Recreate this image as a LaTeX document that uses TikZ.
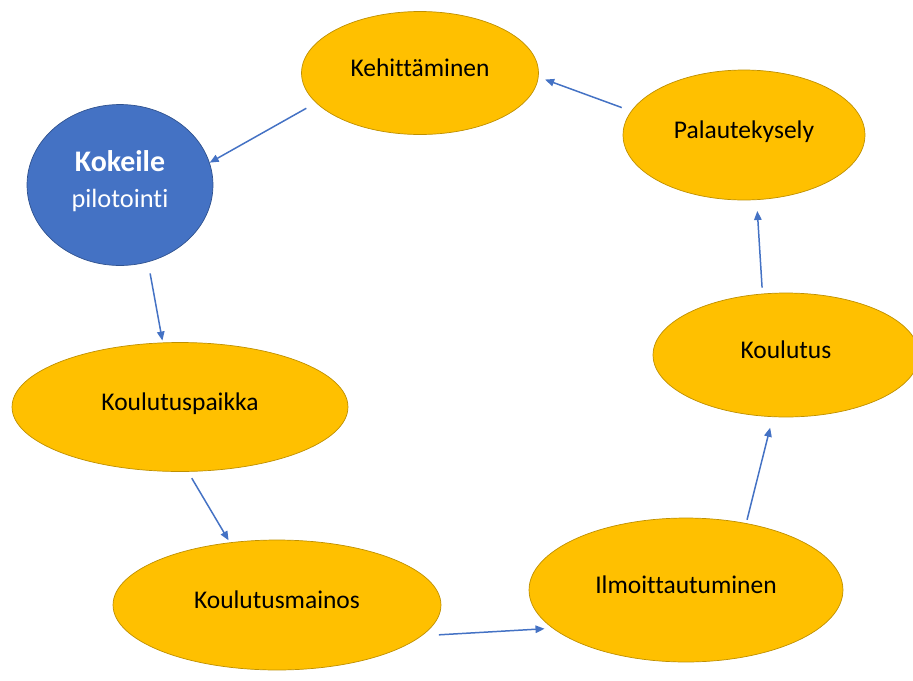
\documentclass[tikz,border=0pt]{standalone}
\usepackage{fontspec}
\setmainfont{Carlito}[Ligatures=NoCommon]
\usetikzlibrary{shapes.geometric,arrows.meta}
\definecolor{gold}{HTML}{FFC000}
\definecolor{goldedge}{HTML}{BF9000}
\definecolor{office}{HTML}{4472C4}
\definecolor{officeedge}{HTML}{2F528F}
\begin{document}
\begin{tikzpicture}[x=0.02cm, y=-0.02cm]
      \fontsize{14.5}{17}\selectfont
      \tikzstyle{phase}=[ellipse, draw=goldedge, line width=0.4pt, fill=gold, inner sep=0pt, text height=0.36cm, text depth=0.24cm]
      \tikzstyle{pilot}=[ellipse, draw=officeedge, line width=0.4pt, fill=office, text=white, inner sep=0pt, align=center, text depth=0.24cm]
      \tikzstyle{arrow}=[draw=office, line width=0.85pt, -{Triangle[length=0.18cm, width=0.15cm]}]
      \useasboundingbox (0,0) rectangle (913,680);
      \node[phase, minimum width=4.74cm, minimum height=2.46cm] (kehi)   at (420, 73)  {Kehittäminen};
      \node[phase, minimum width=4.84cm, minimum height=2.6cm]  (pala)   at (744, 135) {Palautekysely};
      \node[pilot, minimum width=3.72cm, minimum height=3.22cm] (kok)    at (120, 185) {{\fontsize{17}{19}\selectfont\textbf{Kokeile}}\\[4pt]{\fontsize{15}{17}\selectfont pilotointi}};
      \node[phase, minimum width=6.72cm, minimum height=2.58cm] (paikka) at (180, 407) {Koulutuspaikka};
      \node[phase, minimum width=5.32cm, minimum height=2.48cm] (koul)   at (786, 355) {Koulutus};
      \node[phase, minimum width=6.56cm, minimum height=2.6cm]  (mainos) at (277, 605) {Koulutusmainos};
      \node[phase, minimum width=6.28cm, minimum height=2.88cm] (ilmo)   at (686, 590) {Ilmoittautuminen};

      \draw[arrow, shorten <=0.22cm] (kehi.196) -- (kok.14);
      \draw[arrow, shorten <=0.23cm, shorten >=0.04cm] (kok.290) -- (paikka.105);
      \draw[arrow, shorten <=0.15cm, shorten >=0.05cm] (paikka.277) -- (mainos.127);
      \draw[arrow, shorten <=0.34cm, shorten >=0.16cm] (mainos.348) -- (ilmo.196);
      \draw[arrow, shorten <=0.07cm, shorten >=0.22cm] (ilmo.48) -- (koul.258);
      \draw[arrow, shorten <=0.12cm, shorten >=0.22cm] (koul.111) -- (pala.281);
      \draw[arrow, shorten <=0.2cm, shorten >=0.14cm] (pala.168) -- (kehi.358);
\end{tikzpicture}
\end{document}
